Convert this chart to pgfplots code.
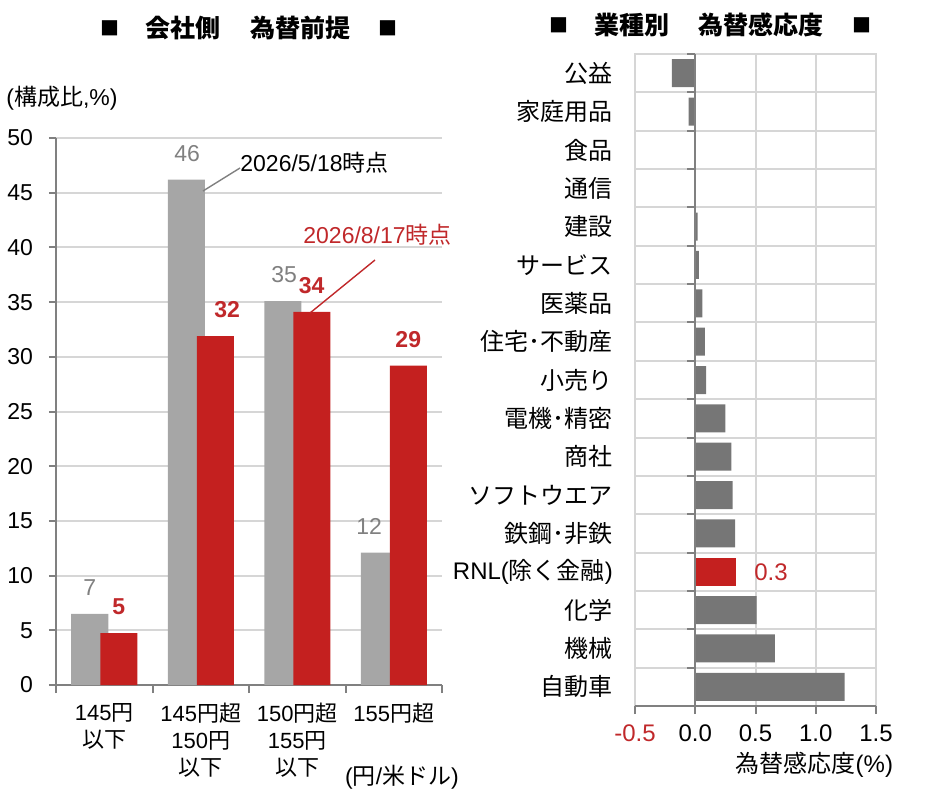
\documentclass[border=0pt]{standalone}
\usepackage{pgfplots}
\pgfplotsset{compat=1.18}
\usepackage{pgfplotstable}
\usepackage{fontspec}
\setmainfont{Liberation Sans}
\newfontfamily\J{Noto Sans CJK JP}
\definecolor{bargray}{HTML}{A6A6A6}
\definecolor{barred}{HTML}{C4201F}
\definecolor{lblred}{HTML}{C0282A}
\definecolor{lblgray}{HTML}{808080}
\definecolor{gridc}{HTML}{D6D6D6}
\definecolor{axisc}{HTML}{808080}
\definecolor{darkbar}{HTML}{767676}

\pgfplotstableread{
x y dx lab
0 6.5 0 7
1 46.2 0.5 46
2 35.1 0.75 35
3 12.1 -5 12
}\tblgray
\pgfplotstableread{
x y dx lab
0 4.75 0 5
1 31.9 6 32
2 34.1 0 34
3 29.2 0 29
}\tblred
\pgfplotstableread{
y x
0 1.24
1 0.66
2 0.51
4 0.33
5 0.31
6 0.30
7 0.25
8 0.09
9 0.08
10 0.06
11 0.03
12 0.02
13 0.005
14 0.002
15 -0.055
16 -0.195
}\tblsector
\pgfplotstableread{
y x lab
3 0.34 0.3
}\tblrnl

\begin{document}
\begin{tikzpicture}
\useasboundingbox (0,0) rectangle (465pt,400pt);

% ---------- Left panel ----------
\begin{axis}[
  at={(28pt,57.5pt)}, anchor=south west, scale only axis,
  width=193pt, height=273.5pt,
  xmin=-0.5, xmax=3.5, ymin=0, ymax=50,
  ybar, bar width=18.5pt,
  axis lines=left, axis line style={-, axisc, line width=1pt},
  ytick={0,5,...,50}, ymajorgrids, grid style={gridc, line width=1pt},
  xtick={0,1,2,3},
  xticklabels={{145{\J 円}\\{\J 以下}},{145{\J 円超}\\150{\J 円}\\{\J 以下}},{150{\J 円超}\\155{\J 円}\\{\J 以下}},{155{\J 円超}}},
  minor xtick={-0.5,0.5,1.5,2.5,3.5},
  tick align=outside, major tick length=3.5pt, minor tick length=4pt,
  tick style={axisc, line width=1pt},
  major x tick style={draw=none},
  xticklabel style={align=center, anchor=north, font=\fontsize{11}{13.5}\selectfont, yshift=-2pt},
  yticklabel style={font=\fontsize{11.5}{13}\selectfont, xshift=-4.5pt},
  /pgf/number format/assume math mode=true,
  clip=false,
  nodes near coords,
  point meta=explicit symbolic,
]
\addplot[fill=bargray, draw=none, bar shift=-7.25pt,
  visualization depends on={\thisrow{dx} \as \dx},
  every node near coord/.append style={lblgray, font=\fontsize{11.5}{13}\selectfont, yshift=5.5pt, xshift=\dx pt}]
  table[x=x, y=y, meta=lab] {\tblgray};
\addplot[fill=barred, draw=none, bar shift=7.25pt,
  visualization depends on={\thisrow{dx} \as \dx},
  every node near coord/.append style={lblred, font=\bfseries\fontsize{11.5}{13}\selectfont, yshift=5.5pt, xshift=\dx pt}]
  table[x=x, y=y, meta=lab] {\tblred};
\end{axis}

% annotations left
\draw[axisc, line width=0.7pt] (101.5pt,304.5pt) -- (120pt,316pt);
\node[anchor=west, inner sep=0pt, font=\fontsize{11.5}{13}\selectfont] at (120pt,318.5pt) {2026/5/18{\J 時点}};
\draw[lblred, line width=0.7pt] (155pt,243.5pt) -- (187.5pt,270pt);
\node[anchor=west, inner sep=0pt, text=lblred, font=\fontsize{11.5}{13}\selectfont] at (151.5pt,282.5pt) {2026/8/17{\J 時点}};

\node[anchor=west, inner sep=0pt, font=\fontsize{11.5}{13}\selectfont] at (3pt,351pt) {({\J 構成比},\%)};
\node[inner sep=0pt, font=\fontsize{11.5}{13}\selectfont] at (201pt,11.5pt) {({\J 円}/{\J 米ドル})};

% titles
\node[inner sep=0pt, font=\J\fontsize{9.5}{10}\selectfont] at (55pt,386pt) {■};
\node[inner sep=0pt, font=\J\bfseries\fontsize{12.5}{14}\selectfont] at (91.5pt,386pt) {会社側};
\node[inner sep=0pt, font=\J\bfseries\fontsize{12.5}{14}\selectfont] at (150pt,386pt) {為替前提};
\node[inner sep=0pt, font=\J\fontsize{9.5}{10}\selectfont] at (194pt,386pt) {■};

\node[inner sep=0pt, font=\J\fontsize{9.5}{10}\selectfont] at (279.5pt,387.5pt) {■};
\node[inner sep=0pt, font=\J\bfseries\fontsize{12.5}{14}\selectfont] at (316pt,387.5pt) {業種別};
\node[inner sep=0pt, font=\J\bfseries\fontsize{12.5}{14}\selectfont] at (380.5pt,387.5pt) {為替感応度};
\node[inner sep=0pt, font=\J\fontsize{9.5}{10}\selectfont] at (431pt,387.5pt) {■};

% ---------- Right panel: grid-only axis (behind) ----------
\begin{axis}[
  at={(317.5pt,47pt)}, anchor=south west, scale only axis,
  width=120.5pt, height=326pt,
  xmin=-0.5, xmax=1.5, ymin=-0.5, ymax=16.5,
  xtick={-0.5,0,0.5,1,1.5}, xticklabels={},
  ytick={-0.5,0.5,...,16.5}, yticklabels={},
  xmajorgrids, ymajorgrids,
  major grid style={gridc, line width=1pt},
  axis line style={gridc, line width=1pt},
  major tick length=0pt,
]
\end{axis}

% ---------- Right panel: bars and labels ----------
\begin{axis}[
  at={(317.5pt,47pt)}, anchor=south west, scale only axis,
  width=120.5pt, height=326pt,
  xmin=-0.5, xmax=1.5, ymin=-0.5, ymax=16.5,
  xbar, bar width=14pt,
  axis line style={draw=none},
  xtick={-0.5,0,0.5,1,1.5},
  xticklabels={\textcolor{lblred}{-0.5},0.0,0.5,1.0,1.5},
  ytick={0,...,16},
  yticklabels={{\J 自動車},{\J 機械},{\J 化学},RNL({\J 除く金融}),{\J 鉄鋼･非鉄},{\J ソフトウエア},{\J 商社},{\J 電機･精密},{\J 小売り},{\J 住宅･不動産},{\J 医薬品},{\J サービス},{\J 建設},{\J 通信},{\J 食品},{\J 家庭用品},{\J 公益}},
  ytick style={draw=none},
  xtick pos=left,
  tick align=outside, major tick length=4pt,
  xtick style={axisc, line width=1pt},
  xticklabel style={font=\fontsize{12}{13}\selectfont, yshift=-2pt},
  yticklabel style={font=\fontsize{12}{13}\selectfont, xshift=-3.5pt},
  xlabel={{\J 為替感応度}(\%)},
  xlabel style={font=\fontsize{12}{13}\selectfont, at={(1.1,0)}, anchor=north east, yshift=-19.5pt},
  clip=false,
]
\addplot[fill=darkbar, draw=none, bar shift=0pt] table[x=x, y=y] {\tblsector};
\addplot[fill=barred, draw=none, bar shift=0pt,
  nodes near coords, point meta=explicit symbolic,
  every node near coord/.append style={lblred, anchor=west, font=\fontsize{12}{13}\selectfont, xshift=5.5pt}]
  table[x=x, y=y, meta=lab] {\tblrnl};
\draw[axisc, line width=1pt] (axis cs:-0.5,-0.5) -- (axis cs:1.5,-0.5);
\draw[axisc, line width=1pt] (axis cs:0,-0.5) -- (axis cs:0,16.5);
\pgfplotsinvokeforeach{-0.5,0.5,...,16.5}{
  \draw[axisc, line width=1pt] (axis cs:0,#1) -- ++(-4pt,0pt);
}
\end{axis}
\end{tikzpicture}
\end{document}
